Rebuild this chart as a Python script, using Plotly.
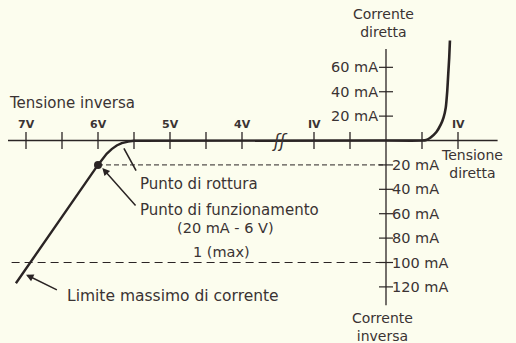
import plotly.graph_objects as go

# ---- data -------------------------------------------------------------
# Reverse characteristic (volts of reverse bias, current in mA, negative = reverse)
reverse_volts = [0.0, 1.0, 4.0, 5.42, 5.50, 5.58, 5.67, 5.74, 5.81, 5.88, 5.94, 6.00, 7.14]
reverse_mA = [0.0, 0.0, 0.0, 0.0, -0.25, -0.9, -2.2, -4.1, -7.0, -10.9, -15.6, -20.0, -117.0]

# Forward characteristic
forward_volts = [0.0, 0.50, 0.56, 0.62, 0.70, 0.76, 0.80, 0.83, 0.85, 0.865, 0.878, 0.888]
forward_mA = [0.0, 0.0, 0.5, 2.5, 7.0, 13.0, 19.0, 27.0, 40.0, 55.0, 68.0, 82.0]

# Operating point and maximum current
op_volts, op_mA = 6.0, 20.0
max_mA = 100.0

# Voltage axis ticks (reverse ticks are broken between 4 V and 1 V)
reverse_ticks = [7.0, 6.5, 6.0, 5.5, 5.0, 4.5, 4.0, 1.0, 0.5]
forward_ticks = [0.5, 1.0]
volt_labels = {7.0: "7V", 6.0: "6V", 5.0: "5V", 4.0: "4V", 1.0: "IV"}
forward_labels = {1.0: "IV"}

# Current axis ticks
direct_ticks = [20, 40, 60]
inverse_ticks = [20, 40, 60, 80, 100, 120]

# ---- axis mapping (broken voltage axis) -----------------------------------
BREAK_SHIFT = 2.0


def rev_pos(v):
    """Position on the horizontal axis for a reverse voltage."""
    return -(v - BREAK_SHIFT) if v >= 4.0 else -v


INK = "#2a2424"
TEXT = "#3a3333"
BG = "#fcfdee"
FONT = "DejaVu Sans"
FS = 14

fig = go.Figure()

# axes
fig.add_trace(go.Scatter(x=[-5.25, 1.55], y=[0, 0], mode="lines",
                         line=dict(color=INK, width=1.3), hoverinfo="skip"))
fig.add_trace(go.Scatter(x=[0, 0], y=[75, -135], mode="lines",
                         line=dict(color=INK, width=1.3), hoverinfo="skip"))

# voltage ticks
tick_x = [rev_pos(v) for v in reverse_ticks] + forward_ticks
fig.add_trace(go.Scatter(x=tick_x, y=[0] * len(tick_x), mode="markers",
                         marker=dict(symbol="line-ns-open", size=12, color=INK,
                                     line=dict(color=INK, width=1.3)),
                         hoverinfo="skip"))
# current ticks
cur_y = direct_ticks + [-c for c in inverse_ticks]
fig.add_trace(go.Scatter(x=[0] * len(cur_y), y=cur_y, mode="markers",
                         marker=dict(symbol="line-ew-open", size=10, color=INK,
                                     line=dict(color=INK, width=1.2)),
                         hoverinfo="skip"))

# dashed reference lines
fig.add_trace(go.Scatter(x=[rev_pos(op_volts), -0.04], y=[-op_mA, -op_mA], mode="lines",
                         line=dict(color=INK, width=1, dash="5px,3px"), hoverinfo="skip"))
fig.add_trace(go.Scatter(x=[rev_pos(7.2), -0.04], y=[-max_mA, -max_mA], mode="lines",
                         line=dict(color=INK, width=1.2, dash="8px,5px"), hoverinfo="skip"))

# characteristic curves
fig.add_trace(go.Scatter(x=[rev_pos(v) for v in reverse_volts], y=reverse_mA,
                         mode="lines", line=dict(color=INK, width=2.4),
                         hoverinfo="skip"))
fig.add_trace(go.Scatter(x=forward_volts, y=forward_mA, mode="lines",
                         line=dict(color=INK, width=2.6, shape="spline", smoothing=0.6),
                         hoverinfo="skip"))

# operating point
fig.add_trace(go.Scatter(x=[rev_pos(op_volts)], y=[-op_mA], mode="markers",
                         marker=dict(color=INK, size=8), hoverinfo="skip"))

ann = []


def text(x, y, s, size=FS, xanchor="left", yanchor="middle", bold=False, **kw):
    ann.append(dict(x=x, y=y, text=f"<b>{s}</b>" if bold else s, showarrow=False,
                    xanchor=xanchor, yanchor=yanchor,
                    font=dict(family=FONT, size=size, color=TEXT), **kw))


# voltage tick labels
for v, lab in volt_labels.items():
    text(rev_pos(v), 13, lab, size=11, xanchor="center", bold=True)
for v, lab in forward_labels.items():
    text(v, 13, lab, size=11, xanchor="center", bold=True)

# current tick labels
for c in direct_ticks:
    text(-0.08, c, f"{c} mA", size=14.5, xanchor="right")
for c in inverse_ticks:
    text(0.05, -c, f"{c} mA", size=14.5, xanchor="left")

# axis titles
text(-5.27, 30.5, "Tensione inversa", size=15)
text(-0.03, 96, "Corrente<br>diretta", size=FS, xanchor="center")
text(1.19, -19.5, "Tensione<br>diretta", size=FS, xanchor="center")
text(-0.05, -152.5, "Corrente<br>inversa", size=FS, xanchor="center")

# notes
text(-3.444, -35.5, "Punto di rottura", size=15)
text(-3.444, -57.0, "Punto di funzionamento", size=15)
text(-2.23, -71.7, f"({op_mA:.0f} mA - {op_volts:.0f} V)", size=14.5, xanchor="center")
text(-2.29, -91.4, "1 (max)", size=14.5, xanchor="center")
text(-4.46, -127.5, "Limite massimo di corrente", size=15.5)

# axis break mark
text(-1.47, 0, "<i>ʃʃ</i>", size=17, xanchor="center")

# pointer lines
ann.append(dict(x=rev_pos(5.64), y=-6.5, ax=rev_pos(5.46), ay=-26, axref="x", ayref="y",
                showarrow=True, arrowhead=0, arrowwidth=1.6, arrowcolor=INK, text=""))
ann.append(dict(x=rev_pos(5.94), y=-22.5, ax=rev_pos(5.46), ay=-54.5, axref="x", ayref="y",
                showarrow=True, arrowhead=2, arrowsize=1, arrowwidth=1.5, arrowcolor=INK,
                text=""))
ann.append(dict(x=rev_pos(7.0), y=-110, ax=rev_pos(6.55), ay=-123, axref="x", ayref="y",
                showarrow=True, arrowhead=2, arrowsize=1, arrowwidth=1.5, arrowcolor=INK,
                text=""))

fig.update_layout(
    width=516, height=343, autosize=False,
    margin=dict(l=0, r=0, t=0, b=0),
    paper_bgcolor=BG, plot_bgcolor=BG,
    showlegend=False,
    xaxis=dict(range=[-386 / 72, 130 / 72], visible=False, fixedrange=True),
    yaxis=dict(range=[-166.0, 115.2], visible=False, fixedrange=True),
    annotations=ann,
)

fig.write_html("out.html")
